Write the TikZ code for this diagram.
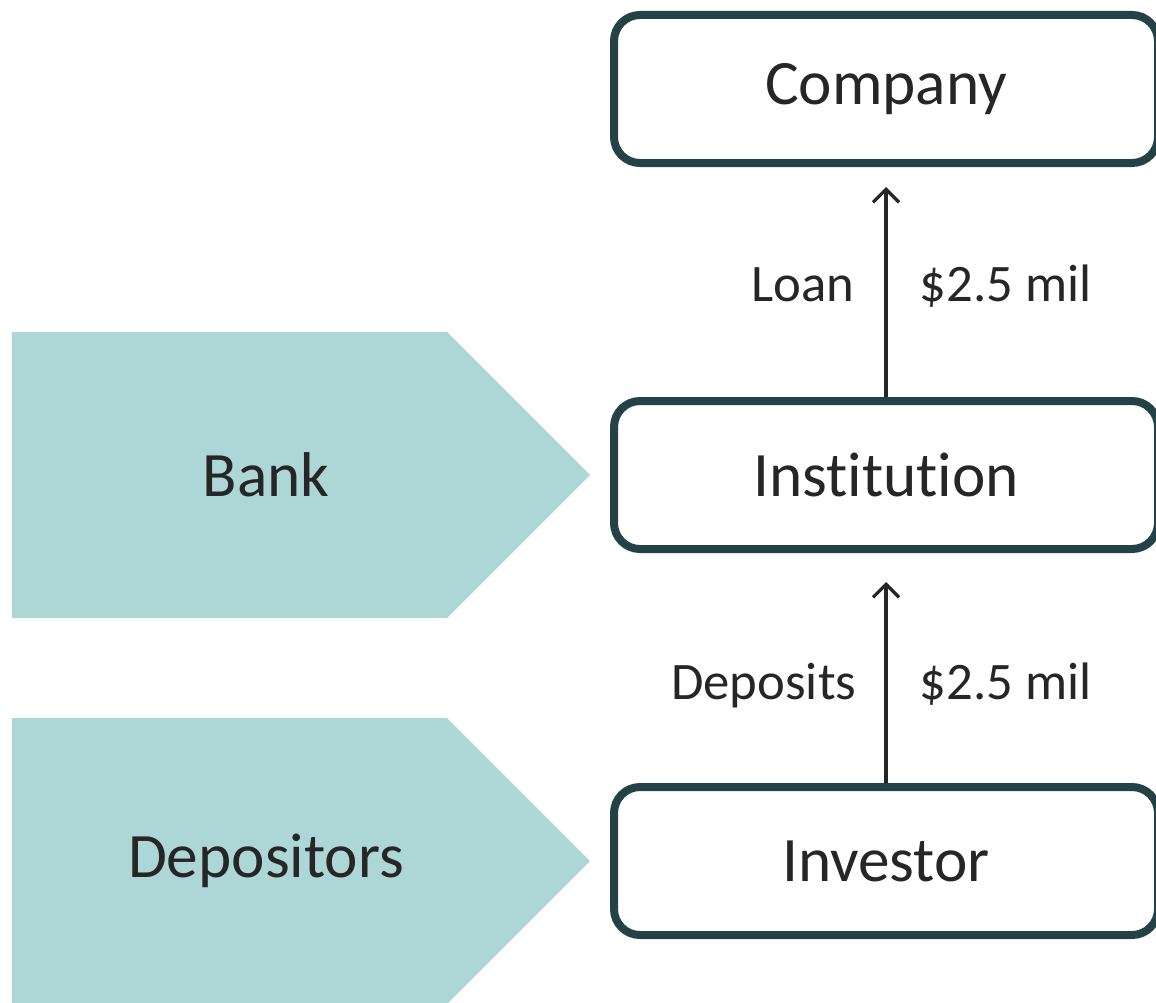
\documentclass[tikz,border=0pt]{standalone}
\usepackage{fontspec}
\setmainfont{Carlito}[Ligatures=NoCommon]
\usetikzlibrary{arrows.meta}
\definecolor{boxline}{HTML}{234245}
\definecolor{tagfill}{HTML}{ADD7D7}
\definecolor{ink}{HTML}{262626}
\tikzset{
	entity/.style={draw=boxline, line width=0.08cm, rounded corners=0.26cm, fill=white, minimum width=5.44cm, minimum height=1.48cm, text=ink, font=\fontsize{18}{22}\selectfont},
	flow/.style={draw=ink, line width=0.033cm, -{Straight Barb[length=0.13cm,width=0.26cm]}},
	flowlabel/.style={text=ink, font=\fontsize{15}{18}\selectfont, inner sep=0pt},
	tagtext/.style={text=ink, font=\fontsize{18}{22}\selectfont}
}

\begin{document}
\begin{tikzpicture}
		%%%%% START %%%%%
		\useasboundingbox (0, 0) rectangle (11.56, -10.02);
		\clip (0, 0) rectangle (11.56, -10.02);
		
		\fill[tagfill] (0.12, -3.32) -- (4.47, -3.32) -- (5.90, -4.75) -- (4.47, -6.18) -- (0.12, -6.18) -- cycle;
		\node[tagtext] (bank) at (2.66, -4.75) {Bank};
		
		\fill[tagfill] (0.12, -7.18) -- (4.47, -7.18) -- (5.90, -8.61) -- (4.47, -10.04) -- (0.12, -10.04) -- cycle;
		\node[tagtext] (depositors) at (2.66, -8.61) {Depositors};
		
		\node[entity] (company) at (8.86, -0.89) {Company};
		\node[entity] (institution) at (8.86, -4.75) {Institution};
		\node[entity] (investor) at (8.86, -8.61) {Investor};
		
		\draw[flow, shorten >=0.2cm] (institution) -- (company)
			node[flowlabel, pos=0.45, anchor=mid east, xshift=-0.3cm] (loan) {Loan}
			node[flowlabel, pos=0.45, anchor=mid west, xshift=0.32cm] (loanamount) {\$2.5 mil};
		
		\draw[flow, shorten >=0.29cm] (investor) -- (institution)
			node[flowlabel, pos=0.4, anchor=mid east, xshift=-0.28cm] (deposits) {Deposits}
			node[flowlabel, pos=0.4, anchor=mid west, xshift=0.32cm] (depositamount) {\$2.5 mil};
		
		%%%%% END %%%%%
	\end{tikzpicture}
\end{document}
